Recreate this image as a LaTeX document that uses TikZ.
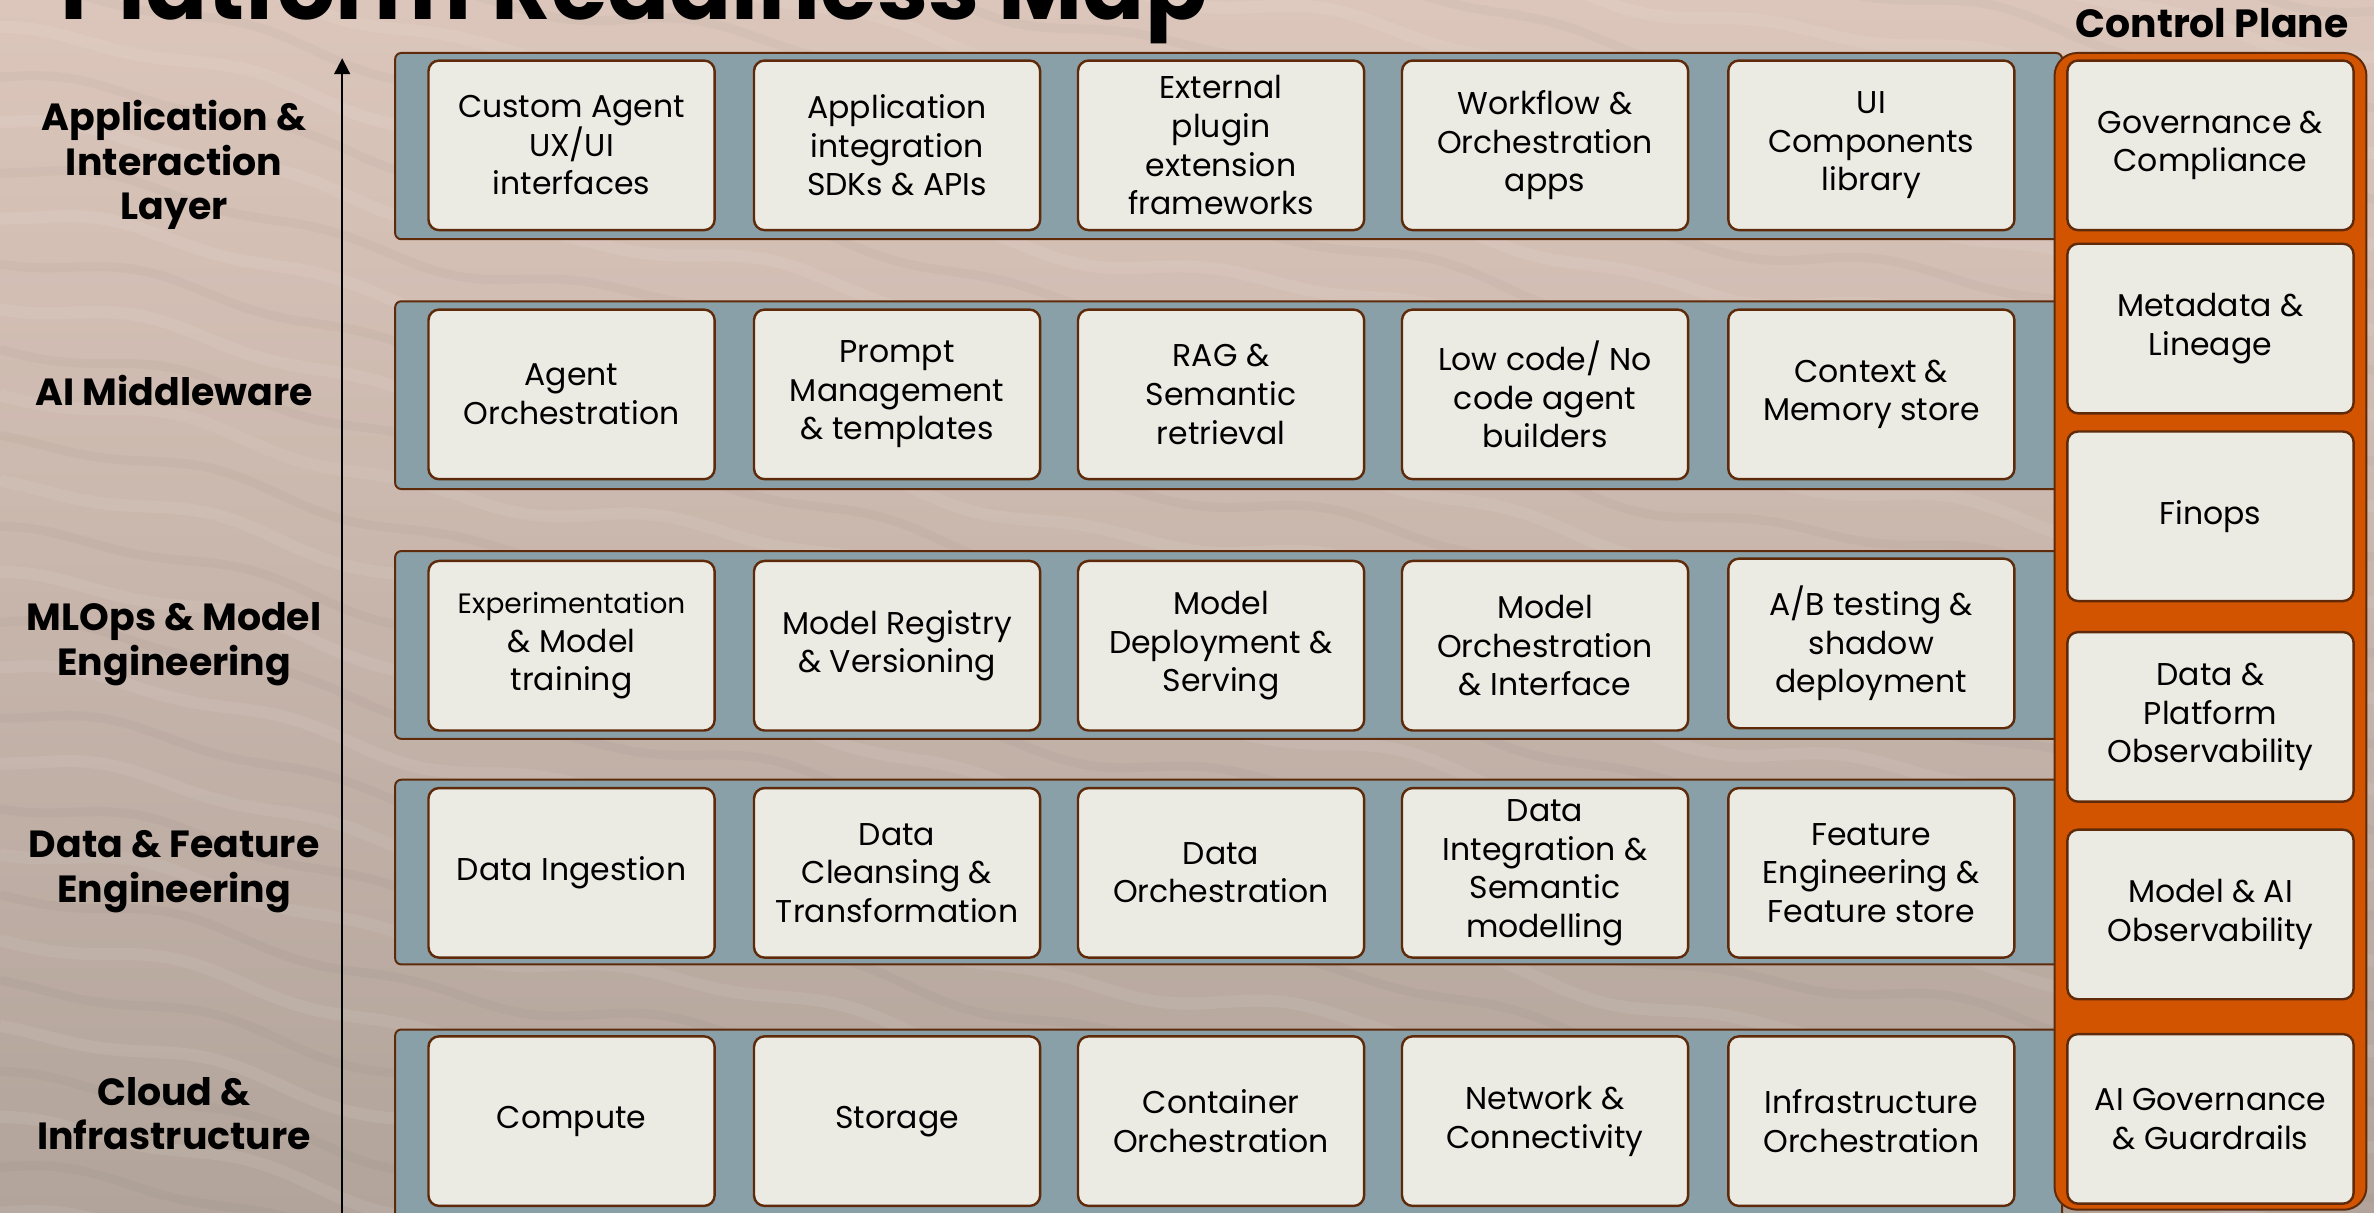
\documentclass[tikz,border=0pt]{standalone}
\usepackage{fontspec}
\setmainfont{Poppins}
\usetikzlibrary{arrows.meta}
\definecolor{bandfill}{HTML}{89A0A8}
\definecolor{edgebrown}{HTML}{5E2A0A}
\definecolor{boxfill}{HTML}{ECEBE3}
\definecolor{ctrlorange}{HTML}{D35400}
\definecolor{sandtop}{HTML}{DCC6BB}
\definecolor{sandbot}{HTML}{B2A49B}
\tikzset{
  cell/.style={draw=edgebrown, line width=1.6pt, fill=boxfill, rounded corners=7pt,
    minimum width=189pt, minimum height=112pt, align=center, inner sep=0pt,
    font=\fontsize{20.8}{25.5}\selectfont, text=black},
  band/.style={draw=edgebrown, line width=1.3pt, fill=bandfill, rounded corners=4pt,
    minimum width=1101pt, inner sep=0pt},
  layerlabel/.style={align=center, inner sep=0pt, font=\fontsize{25}{29.5}\selectfont\bfseries},
}
\begin{document}
\begin{tikzpicture}[x=1pt,y=1pt]
\useasboundingbox (0,0) rectangle (1568,801);
\clip (0,0) rectangle (1568,801);
% sand background
\shade[top color=sandtop, bottom color=sandbot] (0,0) rectangle (1568,801);
\foreach \c in {0,60,...,1140}{
  \draw[white, opacity=0.07, line width=8pt] plot[domain=0:1568, samples=90, smooth] (\x, {\c - 0.2*\x + 7*sin(0.9*\x) + 4*sin(2.3*\x+\c)});
  \draw[black, opacity=0.025, line width=6pt] plot[domain=0:1568, samples=90, smooth] (\x, {\c + 30 - 0.2*\x + 7*sin(0.9*\x) + 4*sin(2.3*\x+\c)});
}
% title
\node[anchor=base west, inner sep=0pt, font=\fontsize{60.5}{66}\selectfont\bfseries] (title) at (40,788) {Platform Readiness Map};
\node[anchor=base, inner sep=0pt, font=\fontsize{26}{30}\selectfont\bfseries] (cptitle) at (1461,776) {Control Plane};
% axis arrow
\coordinate (arrbot) at (226,-2);
\coordinate (arrtop) at (226,762.5);
\draw[line width=1.3pt, -{Triangle[length=10.5pt,width=10.5pt]}] (arrbot) -- (arrtop);
% layer labels
\node[layerlabel] (l1) at (115,692) {Application \&\\Interaction\\Layer};
\node[layerlabel] (l2) at (115,543) {AI Middleware};
\node[layerlabel] (l3) at (115,375.5) {MLOps \& Model\\Engineering};
\node[layerlabel] (l4) at (115,225.5) {Data \& Feature\\Engineering};
\node[layerlabel] (l5) at (115,65.5) {Cloud \&\\Infrastructure};
% bands
\node[band, minimum height=123pt] (band1) at (811.5,704.5) {};
\node[band, minimum height=124pt] (band2) at (811.5,540) {};
\node[band, minimum height=124pt] (band3) at (811.5,375) {};
\node[band, minimum height=122pt] (band4) at (811.5,225) {};
\node[band, minimum height=141pt] (band5) at (811.5,50.5) {};
% row 1
\node[cell] (a1) at (377.5,705) {Custom Agent\\UX/UI\\interfaces};
\node[cell] (a2) at (592.5,705) {Application\\integration\\SDKs \& APIs};
\node[cell] (a3) at (806.5,705) {External\\plugin\\extension\\frameworks};
\node[cell] (a4) at (1020.5,705) {Workflow \&\\Orchestration\\apps};
\node[cell] (a5) at (1236,705) {UI\\Components\\library};
% row 2
\node[cell] (m1) at (377.5,540.5) {Agent\\Orchestration};
\node[cell] (m2) at (592.5,540.5) {Prompt\\Management\\\& templates};
\node[cell] (m3) at (806.5,540.5) {RAG \&\\Semantic\\retrieval};
\node[cell] (m4) at (1020.5,540.5) {Low code/ No\\code agent\\builders};
\node[cell] (m5) at (1236,540.5) {Context \&\\Memory store};
% row 3
\node[cell] (o1) at (377.5,374.5) {{\fontsize{18.5}{22}\selectfont Experimentation}\\\& Model\\training};
\node[cell] (o2) at (592.5,374.5) {Model Registry\\\& Versioning};
\node[cell] (o3) at (806.5,374.5) {Model\\Deployment \&\\Serving};
\node[cell] (o4) at (1020.5,374.5) {Model\\Orchestration\\\& Interface};
\node[cell] (o5) at (1236,376) {A/B testing \&\\shadow\\deployment};
% row 4
\node[cell] (d1) at (377.5,224.5) {Data Ingestion};
\node[cell] (d2) at (592.5,224.5) {Data\\Cleansing \&\\Transformation};
\node[cell] (d3) at (806.5,224.5) {Data\\Orchestration};
\node[cell] (d4) at (1020.5,224.5) {Data\\Integration \&\\Semantic\\modelling};
\node[cell] (d5) at (1236,224.5) {Feature\\Engineering \&\\Feature store};
% row 5
\node[cell] (c1) at (377.5,60.5) {Compute};
\node[cell] (c2) at (592.5,60.5) {Storage};
\node[cell] (c3) at (806.5,60.5) {Container\\Orchestration};
\node[cell] (c4) at (1020.5,60.5) {Network \&\\Connectivity};
\node[cell] (c5) at (1236,60.5) {Infrastructure\\Orchestration};
% control plane
\node[draw=edgebrown, line width=1.3pt, fill=ctrlorange, rounded corners=15pt,
  minimum width=206pt, minimum height=764pt, inner sep=0pt] (panel) at (1460,384) {};
\node[cell] (g1) at (1460,705) {Governance \&\\Compliance};
\node[cell] (g2) at (1460,584) {Metadata \&\\Lineage};
\node[cell] (g3) at (1460,460) {Finops};
\node[cell] (g4) at (1460,327.5) {Data \&\\Platform\\Observability};
\node[cell] (g5) at (1460,197) {Model \& AI\\Observability};
\node[cell] (g6) at (1460,62) {AI Governance\\\& Guardrails};
\end{tikzpicture}
\end{document}
